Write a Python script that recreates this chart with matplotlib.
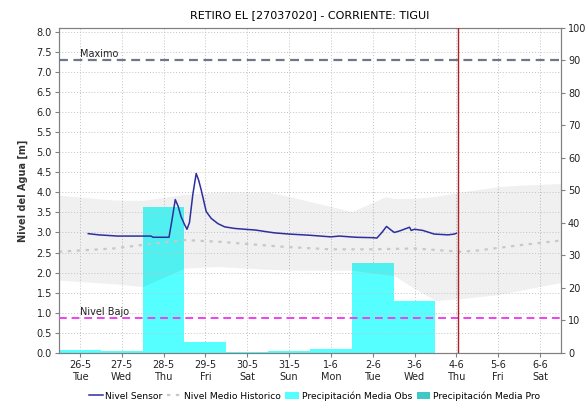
import matplotlib.pyplot as plt
from matplotlib.lines import Line2D
from matplotlib.patches import Patch

# day labels (one tick per day, x = day index)
day_labels = ['26-5', '27-5', '28-5', '29-5', '30-5', '31-5',
              '1-6', '2-6', '3-6', '4-6', '5-6', '6-6']
weekdays = ['Tue', 'Wed', 'Thu', 'Fri', 'Sat', 'Sun',
            'Mon', 'Tue', 'Wed', 'Thu', 'Fri', 'Sat']

# daily observed precipitation [mm]
precip_obs = [1.0, 0.4, 44.8, 3.4, 0.3, 0.5, 1.2, 27.5, 15.8]

# sensor water level [m]
sensor_t = [0.2, 0.45, 0.9, 1.7, 1.75, 2.13, 2.2, 2.28, 2.35, 2.42, 2.5,
            2.56, 2.62, 2.7, 2.78, 2.84, 2.9, 3.02, 3.14, 3.3, 3.46, 3.7,
            3.94, 4.2, 4.45, 4.65, 5.0, 5.5, 6.0, 6.2, 6.6, 7.0, 7.1, 7.22,
            7.33, 7.45, 7.52, 7.65, 7.88, 7.92, 8.0, 8.2, 8.47, 8.8, 8.95, 9.0]
sensor_lvl = [2.97, 2.94, 2.91, 2.91, 2.88, 2.88, 3.3, 3.82, 3.65, 3.39, 3.2,
              3.08, 3.25, 3.95, 4.47, 4.3, 4.06, 3.52, 3.35, 3.22, 3.14, 3.1,
              3.08, 3.06, 3.02, 2.99, 2.96, 2.93, 2.89, 2.91, 2.88, 2.87, 2.86, 3.0,
              3.15, 3.05, 3.0, 3.04, 3.13, 3.05, 3.08, 3.05, 2.96, 2.94, 2.96, 2.98]

# historic mean level and historic range [m]
hist_t = [-0.5, 0.8, 1.5, 2.5, 3.3, 4.9, 6.0, 7.0, 8.0, 9.1, 9.5, 10.5, 11.5]
hist_mean = [2.52, 2.6, 2.69, 2.81, 2.77, 2.64, 2.58, 2.58, 2.6, 2.52, 2.55, 2.68, 2.8]

band_t = [-0.5, 0.8, 1.5, 2.5, 3.3, 4.5, 5.0, 6.5, 7.3, 7.5, 8.0, 8.5,
          9.1, 10.0, 10.5, 11.5]
band_hi = [3.93, 3.81, 3.8, 3.95, 4.01, 4.01, 3.9, 3.52, 3.89, 3.85, 3.85, 3.9,
           4.01, 4.14, 4.18, 4.22]
band_lo = [1.81, 1.72, 1.65, 2.11, 2.15, 2.08, 2.06, 2.06, 1.95, 1.93, 1.6, 1.3,
           1.35, 1.45, 1.55, 1.75]

nivel_max = 7.3
nivel_bajo = 0.87
now_t = 9.05

plt.rcParams['font.family'] = 'DejaVu Sans'
plt.rcParams['font.size'] = 7

fig = plt.figure(figsize=(5.88, 4.05), dpi=100)
# precipitation axes (right scale) underneath, level axes on top
axp = fig.add_axes([0.1003, 0.129, 0.8537, 0.802])
axl = axp.twinx()

axp.bar(range(len(precip_obs)), precip_obs, width=1.0, color='#55ffff',
        edgecolor='none', zorder=2)
axp.set_ylim(0, 100)
axp.set_yticks(range(0, 101, 10))
axp.yaxis.tick_right()
axp.set_xlim(-0.5, 11.5)
axp.set_xticks(range(len(day_labels)))
axp.set_xticklabels([d + '\n' + w for d, w in zip(day_labels, weekdays)],
                    linespacing=1.3)

# dotted grid following the level scale
grid_style = dict(color='#c2c2c2', linestyle=(0, (1, 2)), linewidth=0.7)
axl.set_ylim(0, 8.1)
axl.set_yticks([i * 0.5 for i in range(17)])
axl.set_yticklabels(['%.1f' % (i * 0.5) for i in range(17)])
axl.yaxis.tick_left()
axl.yaxis.set_label_position('left')
axl.grid(True, **grid_style)
axp.xaxis.grid(True, **grid_style)

axl.fill_between(band_t, band_lo, band_hi, color='black', alpha=0.06,
                 linewidth=0, zorder=1)
axl.plot(hist_t, hist_mean, color='#c8c8c8', linestyle=(0, (1.5, 2.5)),
         linewidth=1.6, zorder=2)
axl.plot(sensor_t, sensor_lvl, color='#2e2e9e', linewidth=1.1, zorder=4)

axl.axhline(nivel_max, color='#6c7789', linestyle=(0, (4, 2.5)), linewidth=1.6, zorder=3)
axl.axhline(nivel_bajo, color='#f040f0', linestyle=(0, (4, 2.5)), linewidth=1.4, zorder=3)
axl.text(0, nivel_max + 0.03, 'Maximo', fontsize=7, ha='left', va='bottom', color='#222222')
axl.text(0, nivel_bajo + 0.03, 'Nivel Bajo', fontsize=7, ha='left', va='bottom', color='#222222')
axl.axvline(now_t, color='#b02020', linewidth=1.0, zorder=5)

axl.set_ylabel('Nivel del Agua [m]', fontsize=7, fontweight='bold', labelpad=6,
               color='#333333')
fig.text(0.527, 0.963, 'RETIRO EL [27037020] - CORRIENTE: TIGUI',
         ha='center', va='center', fontsize=8)

for ax in (axp, axl):
    for s in ax.spines.values():
        s.set_color('#808080')
    ax.tick_params(length=3, color='#808080', labelcolor='#222222', pad=2)

handles = [Line2D([], [], color='#2e2e9e', linewidth=1.1),
           Line2D([], [], color='#c8c8c8', linestyle=(0, (1.5, 2.5)), linewidth=1.6),
           Patch(facecolor='#55ffff', edgecolor='none'),
           Patch(facecolor='#40c8c8', edgecolor='none')]
labels = ['Nivel Sensor', 'Nivel Medio Historico',
          'Precipitación Media Obs', 'Precipitación Media Pro']
fig.legend(handles, labels, loc='center', bbox_to_anchor=(0.535, 0.022),
           ncol=4, frameon=False, fontsize=6.6, handlelength=1.5,
           handletextpad=0.3, columnspacing=0.5, handleheight=0.9)

fig.savefig('out.png', dpi=100)
